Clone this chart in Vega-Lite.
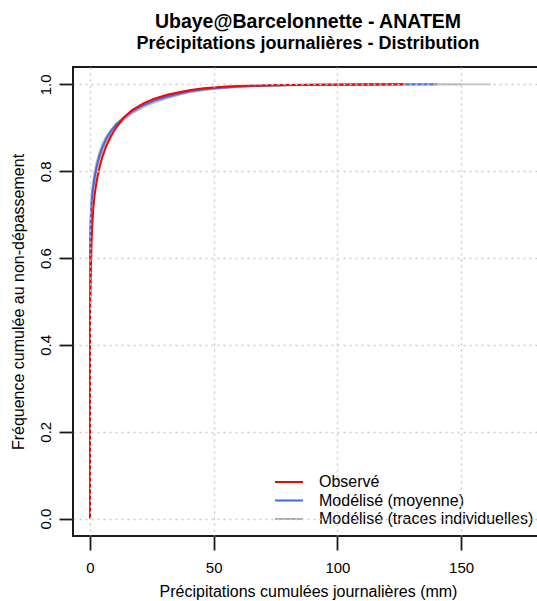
{
"$schema":"https://vega.github.io/schema/vega-lite/v6.json",
"width":470,"height":469,
"autosize":{"type":"none"},
"padding":{"left":73,"top":67,"right":0,"bottom":65},
"background":"white",
"config":{"font":"Liberation Sans","view":{"stroke":"#1a1a1a","strokeWidth":2}},
"title":{"text":"Ubaye@Barcelonnette - ANATEM","subtitle":"Précipitations journalières - Distribution","anchor":"middle","fontSize":19.5,"fontWeight":"bold","subtitleFontSize":18,"subtitleFontWeight":"bold","subtitleColor":"black","color":"black","offset":13,"subtitlePadding":3,"font":"Liberation Sans","subtitleFont":"Liberation Sans"},
"data":{"values":[
{"s":"Modélisé (traces individuelles)","t":"g1","x":0,"F":0},{"s":"Modélisé (traces individuelles)","t":"g1","x":0,"F":0.63},{"s":"Modélisé (traces individuelles)","t":"g1","x":0.2,"F":0.69},{"s":"Modélisé (traces individuelles)","t":"g1","x":0.5,"F":0.735},{"s":"Modélisé (traces individuelles)","t":"g1","x":0.9,"F":0.76},{"s":"Modélisé (traces individuelles)","t":"g1","x":1.35,"F":0.78},{"s":"Modélisé (traces individuelles)","t":"g1","x":2,"F":0.803},{"s":"Modélisé (traces individuelles)","t":"g1","x":2.7,"F":0.822},{"s":"Modélisé (traces individuelles)","t":"g1","x":3.8,"F":0.845},{"s":"Modélisé (traces individuelles)","t":"g1","x":5,"F":0.863},{"s":"Modélisé (traces individuelles)","t":"g1","x":6.5,"F":0.88},{"s":"Modélisé (traces individuelles)","t":"g1","x":8.4,"F":0.895},{"s":"Modélisé (traces individuelles)","t":"g1","x":10.5,"F":0.91},{"s":"Modélisé (traces individuelles)","t":"g1","x":13.7,"F":0.925},{"s":"Modélisé (traces individuelles)","t":"g1","x":17,"F":0.938},{"s":"Modélisé (traces individuelles)","t":"g1","x":21.8,"F":0.952},{"s":"Modélisé (traces individuelles)","t":"g1","x":26,"F":0.962},{"s":"Modélisé (traces individuelles)","t":"g1","x":31.2,"F":0.971},{"s":"Modélisé (traces individuelles)","t":"g1","x":36,"F":0.978},{"s":"Modélisé (traces individuelles)","t":"g1","x":40.7,"F":0.984},{"s":"Modélisé (traces individuelles)","t":"g1","x":46,"F":0.988},{"s":"Modélisé (traces individuelles)","t":"g1","x":50,"F":0.9905},{"s":"Modélisé (traces individuelles)","t":"g1","x":60,"F":0.995},{"s":"Modélisé (traces individuelles)","t":"g1","x":70,"F":0.997},{"s":"Modélisé (traces individuelles)","t":"g1","x":80,"F":0.998},{"s":"Modélisé (traces individuelles)","t":"g1","x":100,"F":0.9993},{"s":"Modélisé (traces individuelles)","t":"g1","x":120,"F":0.9998},{"s":"Modélisé (traces individuelles)","t":"g1","x":150,"F":1.0},
{"s":"Modélisé (traces individuelles)","t":"g2","x":0,"F":0},{"s":"Modélisé (traces individuelles)","t":"g2","x":0,"F":0.6},{"s":"Modélisé (traces individuelles)","t":"g2","x":0.2,"F":0.65},{"s":"Modélisé (traces individuelles)","t":"g2","x":0.5,"F":0.705},{"s":"Modélisé (traces individuelles)","t":"g2","x":0.9,"F":0.735},{"s":"Modélisé (traces individuelles)","t":"g2","x":1.35,"F":0.755},{"s":"Modélisé (traces individuelles)","t":"g2","x":2,"F":0.778},{"s":"Modélisé (traces individuelles)","t":"g2","x":2.7,"F":0.8},{"s":"Modélisé (traces individuelles)","t":"g2","x":3.8,"F":0.826},{"s":"Modélisé (traces individuelles)","t":"g2","x":5,"F":0.847},{"s":"Modélisé (traces individuelles)","t":"g2","x":6.5,"F":0.867},{"s":"Modélisé (traces individuelles)","t":"g2","x":8.4,"F":0.886},{"s":"Modélisé (traces individuelles)","t":"g2","x":10.5,"F":0.902},{"s":"Modélisé (traces individuelles)","t":"g2","x":13.7,"F":0.918},{"s":"Modélisé (traces individuelles)","t":"g2","x":17,"F":0.933},{"s":"Modélisé (traces individuelles)","t":"g2","x":21.8,"F":0.948},{"s":"Modélisé (traces individuelles)","t":"g2","x":26,"F":0.958},{"s":"Modélisé (traces individuelles)","t":"g2","x":31.2,"F":0.968},{"s":"Modélisé (traces individuelles)","t":"g2","x":36,"F":0.976},{"s":"Modélisé (traces individuelles)","t":"g2","x":40.7,"F":0.982},{"s":"Modélisé (traces individuelles)","t":"g2","x":46,"F":0.987},{"s":"Modélisé (traces individuelles)","t":"g2","x":50,"F":0.9895},{"s":"Modélisé (traces individuelles)","t":"g2","x":60,"F":0.994},{"s":"Modélisé (traces individuelles)","t":"g2","x":70,"F":0.9965},{"s":"Modélisé (traces individuelles)","t":"g2","x":80,"F":0.998},{"s":"Modélisé (traces individuelles)","t":"g2","x":100,"F":0.9992},{"s":"Modélisé (traces individuelles)","t":"g2","x":130,"F":0.9998},{"s":"Modélisé (traces individuelles)","t":"g2","x":162,"F":1.0},
{"s":"Modélisé (traces individuelles)","t":"g3","x":0,"F":0},{"s":"Modélisé (traces individuelles)","t":"g3","x":0,"F":0.625},{"s":"Modélisé (traces individuelles)","t":"g3","x":0.2,"F":0.68},{"s":"Modélisé (traces individuelles)","t":"g3","x":0.5,"F":0.728},{"s":"Modélisé (traces individuelles)","t":"g3","x":0.9,"F":0.752},{"s":"Modélisé (traces individuelles)","t":"g3","x":1.35,"F":0.772},{"s":"Modélisé (traces individuelles)","t":"g3","x":2,"F":0.797},{"s":"Modélisé (traces individuelles)","t":"g3","x":2.7,"F":0.817},{"s":"Modélisé (traces individuelles)","t":"g3","x":3.8,"F":0.84},{"s":"Modélisé (traces individuelles)","t":"g3","x":5,"F":0.859},{"s":"Modélisé (traces individuelles)","t":"g3","x":6.5,"F":0.877},{"s":"Modélisé (traces individuelles)","t":"g3","x":8.4,"F":0.893},{"s":"Modélisé (traces individuelles)","t":"g3","x":10.5,"F":0.908},{"s":"Modélisé (traces individuelles)","t":"g3","x":13.7,"F":0.922},{"s":"Modélisé (traces individuelles)","t":"g3","x":17,"F":0.936},{"s":"Modélisé (traces individuelles)","t":"g3","x":21.8,"F":0.951},{"s":"Modélisé (traces individuelles)","t":"g3","x":26,"F":0.961},{"s":"Modélisé (traces individuelles)","t":"g3","x":31.2,"F":0.97},{"s":"Modélisé (traces individuelles)","t":"g3","x":36,"F":0.977},{"s":"Modélisé (traces individuelles)","t":"g3","x":40.7,"F":0.983},{"s":"Modélisé (traces individuelles)","t":"g3","x":46,"F":0.9875},{"s":"Modélisé (traces individuelles)","t":"g3","x":50,"F":0.99},{"s":"Modélisé (traces individuelles)","t":"g3","x":60,"F":0.9952},{"s":"Modélisé (traces individuelles)","t":"g3","x":70,"F":0.9972},{"s":"Modélisé (traces individuelles)","t":"g3","x":80,"F":0.9984},{"s":"Modélisé (traces individuelles)","t":"g3","x":100,"F":0.9994},{"s":"Modélisé (traces individuelles)","t":"g3","x":120,"F":1.0},
{"s":"Modélisé (traces individuelles)","t":"g4","x":0,"F":0},{"s":"Modélisé (traces individuelles)","t":"g4","x":0,"F":0.605},{"s":"Modélisé (traces individuelles)","t":"g4","x":0.2,"F":0.66},{"s":"Modélisé (traces individuelles)","t":"g4","x":0.5,"F":0.712},{"s":"Modélisé (traces individuelles)","t":"g4","x":0.9,"F":0.74},{"s":"Modélisé (traces individuelles)","t":"g4","x":1.35,"F":0.76},{"s":"Modélisé (traces individuelles)","t":"g4","x":2,"F":0.784},{"s":"Modélisé (traces individuelles)","t":"g4","x":2.7,"F":0.806},{"s":"Modélisé (traces individuelles)","t":"g4","x":3.8,"F":0.83},{"s":"Modélisé (traces individuelles)","t":"g4","x":5,"F":0.851},{"s":"Modélisé (traces individuelles)","t":"g4","x":6.5,"F":0.87},{"s":"Modélisé (traces individuelles)","t":"g4","x":8.4,"F":0.889},{"s":"Modélisé (traces individuelles)","t":"g4","x":10.5,"F":0.905},{"s":"Modélisé (traces individuelles)","t":"g4","x":13.7,"F":0.92},{"s":"Modélisé (traces individuelles)","t":"g4","x":17,"F":0.935},{"s":"Modélisé (traces individuelles)","t":"g4","x":21.8,"F":0.95},{"s":"Modélisé (traces individuelles)","t":"g4","x":26,"F":0.96},{"s":"Modélisé (traces individuelles)","t":"g4","x":31.2,"F":0.969},{"s":"Modélisé (traces individuelles)","t":"g4","x":36,"F":0.9765},{"s":"Modélisé (traces individuelles)","t":"g4","x":40.7,"F":0.9825},{"s":"Modélisé (traces individuelles)","t":"g4","x":46,"F":0.987},{"s":"Modélisé (traces individuelles)","t":"g4","x":50,"F":0.9898},{"s":"Modélisé (traces individuelles)","t":"g4","x":60,"F":0.9945},{"s":"Modélisé (traces individuelles)","t":"g4","x":70,"F":0.9968},{"s":"Modélisé (traces individuelles)","t":"g4","x":80,"F":0.9981},{"s":"Modélisé (traces individuelles)","t":"g4","x":100,"F":0.9992},{"s":"Modélisé (traces individuelles)","t":"g4","x":120,"F":0.9997},{"s":"Modélisé (traces individuelles)","t":"g4","x":140,"F":1.0},
{"s":"Modélisé (moyenne)","t":"mean","x":0,"F":0},{"s":"Modélisé (moyenne)","t":"mean","x":0,"F":0.615},{"s":"Modélisé (moyenne)","t":"mean","x":0.2,"F":0.67},{"s":"Modélisé (moyenne)","t":"mean","x":0.5,"F":0.72},{"s":"Modélisé (moyenne)","t":"mean","x":0.9,"F":0.747},{"s":"Modélisé (moyenne)","t":"mean","x":1.35,"F":0.767},{"s":"Modélisé (moyenne)","t":"mean","x":2,"F":0.79},{"s":"Modélisé (moyenne)","t":"mean","x":2.7,"F":0.811},{"s":"Modélisé (moyenne)","t":"mean","x":3.8,"F":0.835},{"s":"Modélisé (moyenne)","t":"mean","x":5,"F":0.855},{"s":"Modélisé (moyenne)","t":"mean","x":6.5,"F":0.874},{"s":"Modélisé (moyenne)","t":"mean","x":8.4,"F":0.892},{"s":"Modélisé (moyenne)","t":"mean","x":10.5,"F":0.907},{"s":"Modélisé (moyenne)","t":"mean","x":13.7,"F":0.923},{"s":"Modélisé (moyenne)","t":"mean","x":17,"F":0.938},{"s":"Modélisé (moyenne)","t":"mean","x":21.8,"F":0.953},{"s":"Modélisé (moyenne)","t":"mean","x":26,"F":0.963},{"s":"Modélisé (moyenne)","t":"mean","x":31.2,"F":0.972},{"s":"Modélisé (moyenne)","t":"mean","x":36,"F":0.979},{"s":"Modélisé (moyenne)","t":"mean","x":40.7,"F":0.9845},{"s":"Modélisé (moyenne)","t":"mean","x":46,"F":0.9885},{"s":"Modélisé (moyenne)","t":"mean","x":50,"F":0.991},{"s":"Modélisé (moyenne)","t":"mean","x":60,"F":0.995},{"s":"Modélisé (moyenne)","t":"mean","x":70,"F":0.9971},{"s":"Modélisé (moyenne)","t":"mean","x":80,"F":0.9983},{"s":"Modélisé (moyenne)","t":"mean","x":90,"F":0.999},{"s":"Modélisé (moyenne)","t":"mean","x":100,"F":0.9994},{"s":"Modélisé (moyenne)","t":"mean","x":110,"F":0.9997},{"s":"Modélisé (moyenne)","t":"mean","x":125,"F":0.9999},{"s":"Modélisé (moyenne)","t":"mean","x":140,"F":1.0},
{"s":"Observé","t":"obs","x":0,"F":0},{"s":"Observé","t":"obs","x":0,"F":0.48},{"s":"Observé","t":"obs","x":0.2,"F":0.52},{"s":"Observé","t":"obs","x":0.4,"F":0.58},{"s":"Observé","t":"obs","x":0.6,"F":0.63},{"s":"Observé","t":"obs","x":0.9,"F":0.675},{"s":"Observé","t":"obs","x":1.3,"F":0.712},{"s":"Observé","t":"obs","x":1.8,"F":0.742},{"s":"Observé","t":"obs","x":2.5,"F":0.77},{"s":"Observé","t":"obs","x":3,"F":0.786},{"s":"Observé","t":"obs","x":4,"F":0.812},{"s":"Observé","t":"obs","x":5,"F":0.833},{"s":"Observé","t":"obs","x":6.5,"F":0.857},{"s":"Observé","t":"obs","x":8.4,"F":0.88},{"s":"Observé","t":"obs","x":10.5,"F":0.9},{"s":"Observé","t":"obs","x":13.7,"F":0.924},{"s":"Observé","t":"obs","x":17,"F":0.941},{"s":"Observé","t":"obs","x":21.8,"F":0.957},{"s":"Observé","t":"obs","x":26,"F":0.967},{"s":"Observé","t":"obs","x":31.2,"F":0.976},{"s":"Observé","t":"obs","x":36,"F":0.982},{"s":"Observé","t":"obs","x":40.7,"F":0.987},{"s":"Observé","t":"obs","x":46,"F":0.991},{"s":"Observé","t":"obs","x":50,"F":0.993},{"s":"Observé","t":"obs","x":55,"F":0.995},{"s":"Observé","t":"obs","x":60,"F":0.9962},{"s":"Observé","t":"obs","x":70,"F":0.9975},{"s":"Observé","t":"obs","x":80,"F":0.9984},{"s":"Observé","t":"obs","x":90,"F":0.999},{"s":"Observé","t":"obs","x":100,"F":0.9994},{"s":"Observé","t":"obs","x":110,"F":0.9997},{"s":"Observé","t":"obs","x":126.5,"F":1.0}
]},
"encoding":{
"x":{"field":"x","type":"quantitative","scale":{"domain":[-6.87,183.1],"nice":false,"zero":false},
 "axis":{"values":[0,50,100,150],"format":"d","title":"Précipitations cumulées journalières (mm)","grid":true,"gridColor":"#cccccc","gridDash":[2,4],"gridWidth":1.5,"domain":false,"tickSize":14,"tickWidth":1.8,"tickColor":"#1a1a1a","labelFontSize":15,"labelPadding":10,"labelColor":"black","titleFontSize":16,"titleFontWeight":"normal","titlePadding":8,"titleColor":"black","zindex":1}},
"y":{"field":"F","type":"quantitative","scale":{"domain":[-0.04,1.04],"nice":false,"zero":false},
 "axis":{"values":[0,0.2,0.4,0.6,0.8,1.0],"format":".1f","title":"Fréquence cumulée au non-dépassement","grid":true,"gridColor":"#cccccc","gridDash":[2,4],"gridWidth":1.5,"domain":false,"tickSize":14,"tickWidth":1.8,"tickColor":"#1a1a1a","labelFontSize":15,"labelPadding":6,"labelAngle":270,"labelAlign":"center","labelBaseline":"bottom","labelColor":"black","titleFontSize":16,"titleFontWeight":"normal","titlePadding":12,"titleColor":"black","zindex":1}},
"color":{"field":"s","type":"nominal","scale":{"domain":["Observé","Modélisé (moyenne)","Modélisé (traces individuelles)"],"range":["#ff0000","#4169e1","#aaaaaa"]},
 "legend":{"title":null,"orient":"bottom-right","offset":9,"padding":0,"labelFontSize":16,"labelColor":"black","labelLimit":400,"symbolType":"stroke","symbolSize":784,"labelOffset":15,"rowPadding":2.5,"clipHeight":16,
  "encode":{"symbols":{"update":{"strokeWidth":{"signal":"datum.value === 'Modélisé (traces individuelles)' ? 3.5 : 1.8"}}}}}},
"strokeWidth":{"field":"s","type":"nominal","scale":{"domain":["Observé","Modélisé (moyenne)","Modélisé (traces individuelles)"],"range":[2,1.8,3.5]},"legend":null},
"detail":{"field":"t"},
"order":{"field":"F","type":"quantitative"}
},
"layer":[
{"transform":[{"filter":"datum.s === 'Modélisé (traces individuelles)'"}],"mark":{"type":"line","opacity":0.7}},
{"transform":[{"filter":"datum.s === 'Modélisé (moyenne)'"}],"mark":{"type":"line"}},
{"transform":[{"filter":"datum.s === 'Observé'"}],"mark":{"type":"line"}}
]
}
